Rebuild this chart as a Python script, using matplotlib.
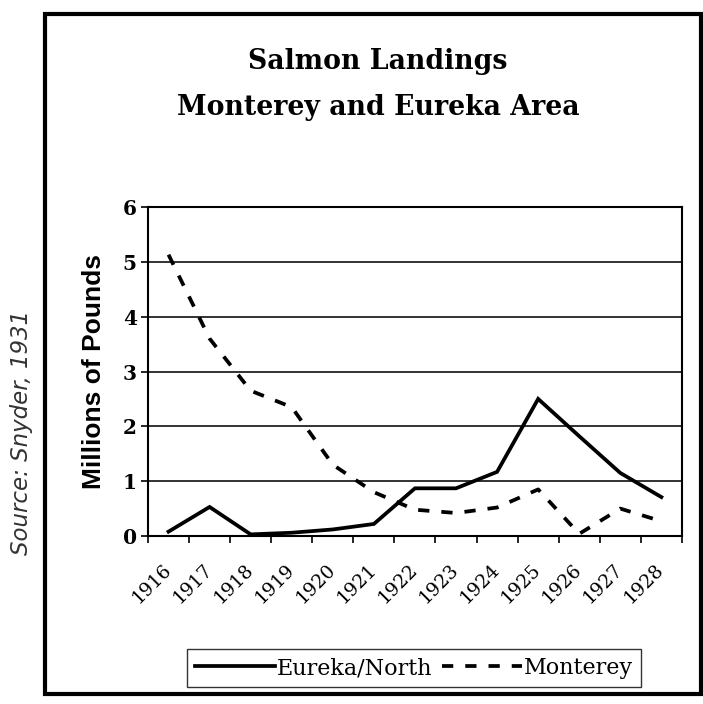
import matplotlib.pyplot as plt
from matplotlib.patches import Rectangle
import numpy as np

years = ["1916", "1917", "1918", "1919", "1920", "1921", "1922",
         "1923", "1924", "1925", "1926", "1927", "1928"]
eureka = [0.08, 0.53, 0.03, 0.06, 0.12, 0.22, 0.87, 0.87, 1.17, 2.5, 1.82, 1.15, 0.71]
monterey = [5.13, 3.6, 2.65, 2.35, 1.3, 0.8, 0.48, 0.42, 0.52, 0.85, 0.04, 0.5, 0.27]
yticks = [0, 1, 2, 3, 4, 5, 6]

fig = plt.figure(figsize=(7.03, 7.04), dpi=100)
ax = fig.add_axes([0.2105, 0.2386, 0.7595, 0.4674])

x = np.arange(len(years))
ax.plot(x, eureka, color="black", lw=2.7, solid_joinstyle="miter", label="Eureka/North")
ax.plot(x, monterey, color="black", lw=2.7, dashes=(3, 3.2), dash_capstyle="butt",
        label="Monterey")

ax.set_xlim(-0.5, len(years) - 0.5)
ax.set_ylim(0, 6)
ax.set_yticks(yticks)
ax.set_yticklabels([str(v) for v in yticks], family="DejaVu Serif",
                   fontsize=14.5, fontweight="bold")
ax.yaxis.grid(True, color="#222222", lw=1.3)
ax.set_axisbelow(True)

# year labels sit under category centres, ticks mark the boundaries
ax.set_xticks(x)
ax.set_xticklabels(years, rotation=45, ha="right", va="center",
                   rotation_mode="anchor", family="DejaVu Serif", fontsize=13.5)
ax.tick_params(axis="x", which="major", length=0, pad=22)
ax.set_xticks(np.arange(-0.5, len(years)), minor=True)
ax.tick_params(axis="x", which="minor", length=5, width=1.2, direction="out")
ax.tick_params(axis="y", length=5, width=1.2, pad=3)
for s in ax.spines.values():
    s.set_linewidth(1.5)

ax.set_ylabel("Millions of Pounds", family="Liberation Sans", fontweight="bold",
              fontsize=19, labelpad=12)

fig.text(0.538, 0.912, "Salmon Landings", ha="center", va="center",
         family="DejaVu Serif", fontweight="bold", fontsize=19.3)
fig.text(0.538, 0.847, "Monterey and Eureka Area", ha="center", va="center",
         family="DejaVu Serif", fontweight="bold", fontsize=19.3)

fig.text(0.031, 0.385, "Source: Snyder, 1931", rotation=90, ha="center", va="center",
         family="DejaVu Sans", style="italic", fontsize=16.5, color="#333333")

fig.patches.append(Rectangle((45 / 703, 1 - 694 / 704), 656 / 703, 680 / 704,
                             transform=fig.transFigure, fill=False,
                             edgecolor="black", lw=3))

leg = fig.legend(loc="center", bbox_to_anchor=(0.589, 0.051), ncol=2,
                 prop={"family": "DejaVu Serif", "size": 16},
                 handlelength=3.6, handletextpad=0.1, columnspacing=0.4,
                 borderpad=0.35, fancybox=False, edgecolor="black")
leg.get_frame().set_linewidth(1.0)

fig.savefig("out.png", dpi=100)
